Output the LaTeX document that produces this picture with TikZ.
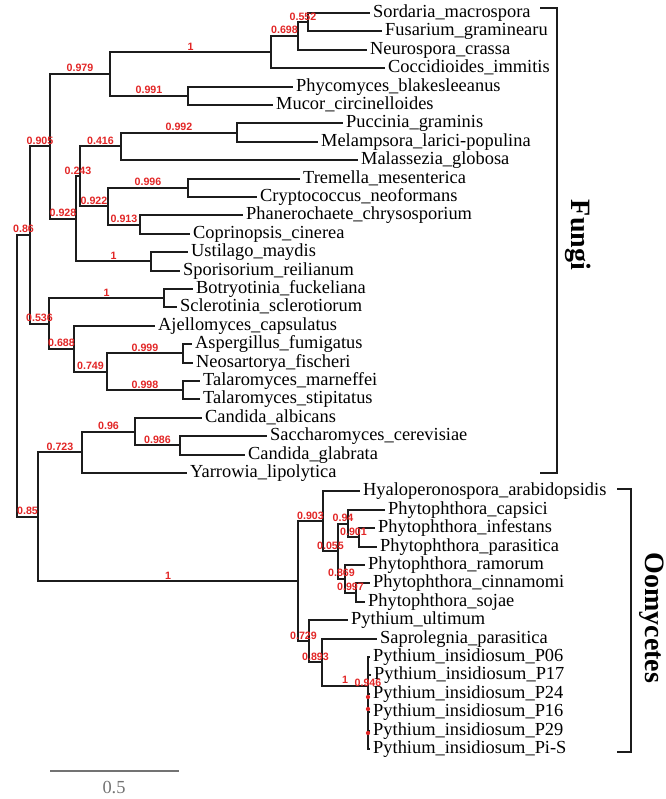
\documentclass[tikz,border=0pt]{standalone}
\usepackage{fontspec}
\setmainfont{Liberation Serif}
\newfontfamily\suppfont{Liberation Sans}
\usepackage{xcolor}
\usepackage{tikz}

\definecolor{suppred}{RGB}{226,38,38}
\definecolor{treeline}{RGB}{28,28,28}
\definecolor{scalegray}{RGB}{115,115,115}

\tikzset{
  branch/.style={draw=treeline, line width=1.5pt},
  leaf/.style={anchor=west, inner xsep=2.2pt, inner ysep=0pt, text height=9.7pt, text depth=3pt, font=\fontsize{13.8}{14}\selectfont},
  suppval/.style={inner sep=0.8pt, text=suppred, font=\suppfont\bfseries\fontsize{8}{8}\selectfont},
  supp/.style={suppval, pos=0.75, anchor=south},
  suppdot/.style={circle, fill=suppred, inner sep=0pt, minimum size=3.2pt},
  clade/.style={draw=treeline, line width=1.8pt},
  cladename/.style={rotate=-90, font=\bfseries\fontsize{21}{21}\selectfont}
}

\begin{document}
\begin{tikzpicture}[x=0.75pt,y=0.75pt,yscale=-1,xscale=1]
\useasboundingbox (0,0) rectangle (666,799);

% Text Node: leaves, Fungi
\node[leaf] (sordaria) at (370,13) {Sordaria\_macrospora};
\node[leaf] (fusarium) at (382,31.4) {Fusarium\_graminearu};
\node[leaf] (neurospora) at (367,49.8) {Neurospora\_crassa};
\node[leaf] (coccidioides) at (385,68.2) {Coccidioides\_immitis};
\node[leaf] (phycomyces) at (293,86.6) {Phycomyces\_blakesleeanus};
\node[leaf] (mucor) at (273,105) {Mucor\_circinelloides};
\node[leaf] (puccinia) at (343,123.4) {Puccinia\_graminis};
\node[leaf] (melampsora) at (318,141.8) {Melampsora\_larici-populina};
\node[leaf] (malassezia) at (358,160.2) {Malassezia\_globosa};
\node[leaf] (tremella) at (300,178.6) {Tremella\_mesenterica};
\node[leaf] (cryptococcus) at (257,197) {Cryptococcus\_neoformans};
\node[leaf] (phanerochaete) at (243,215.4) {Phanerochaete\_chrysosporium};
\node[leaf] (coprinopsis) at (190,233.8) {Coprinopsis\_cinerea};
\node[leaf] (ustilago) at (188,252.2) {Ustilago\_maydis};
\node[leaf] (sporisorium) at (180,270.6) {Sporisorium\_reilianum};
\node[leaf] (botryotinia) at (193,289) {Botryotinia\_fuckeliana};
\node[leaf] (sclerotinia) at (177,307.4) {Sclerotinia\_sclerotiorum};
\node[leaf] (ajellomyces) at (155,325.8) {Ajellomyces\_capsulatus};
\node[leaf] (aspergillus) at (192,344.2) {Aspergillus\_fumigatus};
\node[leaf] (neosartorya) at (193,362.6) {Neosartorya\_fischeri};
\node[leaf] (talmarneffei) at (200,381) {Talaromyces\_marneffei};
\node[leaf] (talstipitatus) at (200,399.4) {Talaromyces\_stipitatus};
\node[leaf] (calbicans) at (202,417.8) {Candida\_albicans};
\node[leaf] (saccharomyces) at (267,436.2) {Saccharomyces\_cerevisiae};
\node[leaf] (cglabrata) at (245,454.6) {Candida\_glabrata};
\node[leaf] (yarrowia) at (187,473) {Yarrowia\_lipolytica};
% Text Node: leaves, Oomycetes
\node[leaf] (hyalo) at (360,491.4) {Hyaloperonospora\_arabidopsidis};
\node[leaf] (phcapsici) at (385,509.8) {Phytophthora\_capsici};
\node[leaf] (phinfestans) at (375,528.2) {Phytophthora\_infestans};
\node[leaf] (phparasitica) at (377,546.6) {Phytophthora\_parasitica};
\node[leaf] (phramorum) at (365,565) {Phytophthora\_ramorum};
\node[leaf] (phcinnamomi) at (370,583.4) {Phytophthora\_cinnamomi};
\node[leaf] (phsojae) at (365,601.8) {Phytophthora\_sojae};
\node[leaf] (pyultimum) at (348,620.2) {Pythium\_ultimum};
\node[leaf] (saprolegnia) at (377,638.6) {Saprolegnia\_parasitica};
\node[leaf] (pi06) at (370,657) {Pythium\_insidiosum\_P06};
\node[leaf] (pi17) at (371,675.4) {Pythium\_insidiosum\_P17};
\node[leaf] (pi24) at (370,693.8) {Pythium\_insidiosum\_P24};
\node[leaf] (pi16) at (370,712.2) {Pythium\_insidiosum\_P16};
\node[leaf] (pi29) at (370,730.6) {Pythium\_insidiosum\_P29};
\node[leaf] (pis) at (370,749) {Pythium\_insidiosum\_Pi-S};

% inner nodes
\coordinate (root) at (17,375.9);
\coordinate (s86) at (30,235);
\coordinate (s905) at (50,146.4);
\coordinate (s979) at (110,74);
\coordinate (s1a) at (271,52.1);
\coordinate (s698) at (298,36);
\coordinate (s552) at (308,22.2);
\coordinate (s991) at (188,95.8);
\coordinate (s928) at (76,218.9);
\coordinate (s243) at (80,176.3);
\coordinate (s416) at (121,146.4);
\coordinate (s992) at (237,132.6);
\coordinate (s922) at (108,206.2);
\coordinate (s996) at (188,187.8);
\coordinate (s913) at (140,224.6);
\coordinate (s1b) at (151,261.4);
\coordinate (s536) at (49,323.5);
\coordinate (s1c) at (164,298.2);
\coordinate (s688) at (74,348.8);
\coordinate (s749) at (107,371.8);
\coordinate (s999) at (183,353.4);
\coordinate (s998) at (183,390.2);
\coordinate (s85) at (38,516.8);
\coordinate (s723) at (82,452.3);
\coordinate (s96) at (135,431.6);
\coordinate (s986) at (180,445.4);
\coordinate (sOo) at (298,581.3);
\coordinate (s903) at (323,521.3);
\coordinate (s055) at (338,551.2);
\coordinate (s94) at (348,523.6);
\coordinate (s901) at (359,537.4);
\coordinate (s869) at (345,578.8);
\coordinate (s997) at (356,592.6);
\coordinate (s729) at (309,641.3);
\coordinate (s893) at (322,662.3);
\coordinate (s1d) at (368,686);

%Straight Lines: Fungi
\draw[branch] (s552) |- (sordaria.west);
\draw[branch] (s552) |- (fusarium.west);
\draw[branch] (s698) |- node[supp] (l552) {0.552} (s552);
\draw[branch] (s698) |- (neurospora.west);
\draw[branch] (s1a) |- node[supp] (l698) {0.698} (s698);
\draw[branch] (s1a) |- (coccidioides.west);
\draw[branch] (s991) |- (phycomyces.west);
\draw[branch] (s991) |- (mucor.west);
\draw[branch] (s979) |- node[supp] (l1a) {1} (s1a);
\draw[branch] (s979) |- node[supp] (l991) {0.991} (s991);
\draw[branch] (s992) |- (puccinia.west);
\draw[branch] (s992) |- (melampsora.west);
\draw[branch] (s416) |- node[supp] (l992) {0.992} (s992);
\draw[branch] (s416) |- (malassezia.west);
\draw[branch] (s996) |- (tremella.west);
\draw[branch] (s996) |- (cryptococcus.west);
\draw[branch] (s913) |- (phanerochaete.west);
\draw[branch] (s913) |- (coprinopsis.west);
\draw[branch] (s922) |- node[supp] (l996) {0.996} (s996);
\draw[branch] (s922) |- node[supp] (l913) {0.913} (s913);
\draw[branch] (s243) |- node[supp] (l416) {0.416} (s416);
\draw[branch] (s243) |- node[supp] (l922) {0.922} (s922);
\draw[branch] (s1b) |- (ustilago.west);
\draw[branch] (s1b) |- (sporisorium.west);
\draw[branch] (s928) |- node[supp] (l243) {0.243} (s243);
\draw[branch] (s928) |- node[supp] (l1b) {1} (s1b);
\draw[branch] (s905) |- node[supp] (l979) {0.979} (s979);
\draw[branch] (s905) |- node[supp] (l928) {0.928} (s928);
\draw[branch] (s1c) |- (botryotinia.west);
\draw[branch] (s1c) |- (sclerotinia.west);
\draw[branch] (s999) |- (aspergillus.west);
\draw[branch] (s999) |- (neosartorya.west);
\draw[branch] (s998) |- (talmarneffei.west);
\draw[branch] (s998) |- (talstipitatus.west);
\draw[branch] (s749) |- node[supp] (l999) {0.999} (s999);
\draw[branch] (s749) |- node[supp] (l998) {0.998} (s998);
\draw[branch] (s688) |- (ajellomyces.west);
\draw[branch] (s688) |- node[supp] (l749) {0.749} (s749);
\draw[branch] (s536) |- node[supp] (l1c) {1} (s1c);
\draw[branch] (s536) |- node[supp] (l688) {0.688} (s688);
\draw[branch] (s86) |- node[supp] (l905) {0.905} (s905);
\draw[branch] (s86) |- node[supp] (l536) {0.536} (s536);
\draw[branch] (s986) |- (saccharomyces.west);
\draw[branch] (s986) |- (cglabrata.west);
\draw[branch] (s96) |- (calbicans.west);
\draw[branch] (s96) |- node[supp] (l986) {0.986} (s986);
\draw[branch] (s723) |- node[supp] (l96) {0.96} (s96);
\draw[branch] (s723) |- (yarrowia.west);

%Straight Lines: Oomycetes
\draw[branch] (s901) |- (phinfestans.west);
\draw[branch] (s901) |- (phparasitica.west);
\draw[branch] (s94) |- (phcapsici.west);
\draw[branch] (s94) |- node[supp] (l901) {0.901} (s901);
\draw[branch] (s997) |- (phcinnamomi.west);
\draw[branch] (s997) |- (phsojae.west);
\draw[branch] (s869) |- (phramorum.west);
\draw[branch] (s869) |- node[supp] (l997) {0.997} (s997);
\draw[branch] (s055) |- node[supp] (l94) {0.94} (s94);
\draw[branch] (s055) |- node[supp] (l869) {0.869} (s869);
\draw[branch] (s903) |- (hyalo.west);
\draw[branch] (s903) |- node[supp] (l055) {0.055} (s055);
\draw[branch] (s1d) |- (pi06.west);
\draw[branch] (s1d) |- (pi17.west);
\draw[branch] (s1d) |- (pi24.west);
\draw[branch] (s1d) |- (pi16.west);
\draw[branch] (s1d) |- (pi29.west);
\draw[branch] (s1d) |- (pis.west);
\draw[branch] (s893) |- (saprolegnia.west);
\draw[branch] (s893) |- node[supp] (l1d) {1} (s1d);
\draw[branch] (s729) |- (pyultimum.west);
\draw[branch] (s729) |- node[supp] (l893) {0.893} (s893);
\draw[branch] (sOo) |- node[supp] (l903) {0.903} (s903);
\draw[branch] (sOo) |- node[supp] (l729) {0.729} (s729);
\draw[branch] (s85) |- node[supp] (l723) {0.723} (s723);
\draw[branch] (s85) |- node[supp] (lOo) {1} (sOo);
\draw[branch] (root) |- node[supp] (l86) {0.86} (s86);
\draw[branch] (root) |- node[supp] (l85) {0.85} (s85);

% Text Node: squeezed support values
\node[suppval] (l946) at (368,683) {0.946};
\node[suppdot] (d1) at (368,697) {};
\node[suppdot] (d2) at (368,709) {};
\node[suppdot] (d3) at (368,733) {};

%Shape: brackets
\draw[clade] (540,8) -- (557,8) -- (557,473) -- (540,473);
\draw[clade] (617,489) -- (631,489) -- (631,752) -- (617,752);
\node[cladename] (fungi) at (578,235) {Fungi};
\node[cladename] (oomycetes) at (652,618) {Oomycetes};

%Straight Lines: scale bar
\draw[draw=scalegray, line width=1.2pt] (50,771) -- (179,771);
\node[text=scalegray, font=\fontsize{13.8}{14}\selectfont] (scale) at (114,788) {0.5};
\end{tikzpicture}
\end{document}
